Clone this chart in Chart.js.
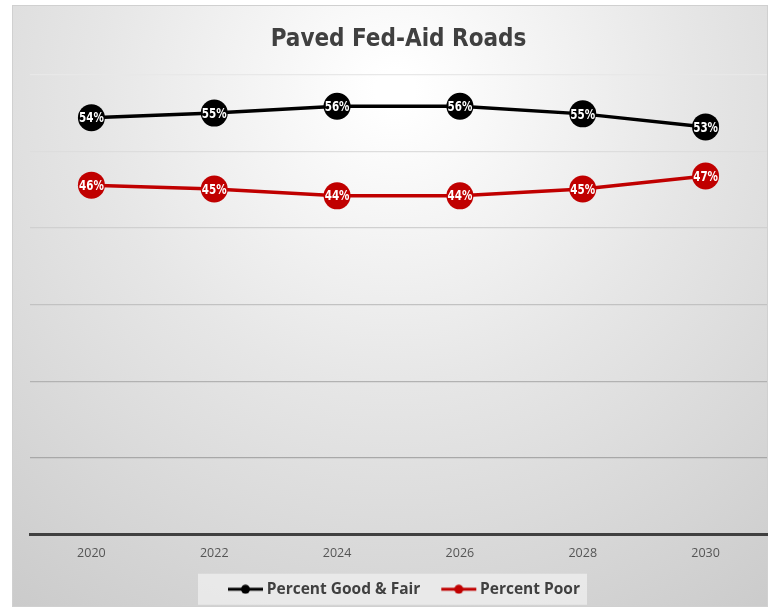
<!DOCTYPE html>
<html>
<head>
<meta charset="utf-8">
<script src="https://cdn.jsdelivr.net/npm/chart.js@4"></script>
<style>
  html, body { margin:0; padding:0; background:#fff; overflow:hidden; }
  #wrap { width:770px; height:611px; }
</style>
</head>
<body>
<div id="wrap"><canvas id="chart" width="770" height="611"></canvas></div>
<script>
// -------- data --------
let years = ['2020','2022','2024','2026','2028','2030'];
let goodFair = [54.4, 55.0, 55.9, 55.9, 54.9, 53.2];
let poor = [45.6, 45.1, 44.2, 44.2, 45.1, 46.8];
let seriesNames = ['Percent Good & Fair', 'Percent Poor'];

let BLACK = '#000000';
let RED = '#c00000';

// legend marker: short line with a dot, shifted right inside a wider canvas
function legendMarker(color){
    let c = document.createElement('canvas');
    c.width = 54; c.height = 10;
    let g = c.getContext('2d');
    g.strokeStyle = color; g.lineWidth = 3;
    g.beginPath(); g.moveTo(17,5); g.lineTo(52,5); g.stroke();
    g.fillStyle = color;
    g.beginPath(); g.arc(34.5,5,4.5,0,Math.PI*2); g.fill();
    return c;
}
let markers = [legendMarker(BLACK), legendMarker(RED)];

// background panel with soft radial gradient
let bgPlugin = {
    id:'bg',
    beforeDraw(chart){
        let ctx = chart.ctx;
        ctx.save();
        ctx.fillStyle = '#fff';
        ctx.fillRect(0,0,chart.width,chart.height);
        let grd = ctx.createRadialGradient(395,90,20,395,90,640);
        grd.addColorStop(0,'#ffffff');
        grd.addColorStop(0.45,'#e6e6e6');
        grd.addColorStop(1,'#cbcbcb');
        ctx.fillStyle = grd;
        ctx.fillRect(12,5,756,602);
        ctx.strokeStyle = '#d0d0d0';
        ctx.lineWidth = 1;
        ctx.strokeRect(12.5,5.5,755,601);
        // legend box
        let lg = chart.legend;
        if(lg && lg.legendHitBoxes && lg.legendHitBoxes.length){
            let hb = lg.legendHitBoxes;
            let x0 = Math.min(...hb.map(h=>h.left)) - 19;
            let x1 = Math.max(...hb.map(h=>h.left+h.width)) + 7;
            let cy = hb[0].top + hb[0].height/2;
            ctx.fillStyle = 'rgba(238,238,238,0.8)';
            ctx.fillRect(x0,cy-15.5,x1-x0,31);
        }
        ctx.restore();
    }
};

// value labels inside the points (condensed)
let labelPlugin = {
    id:'valueLabels',
    afterDatasetsDraw(chart){
        let ctx = chart.ctx;
        ctx.save();
        ctx.font = 'bold 14px "DejaVu Sans", sans-serif';
        ctx.fillStyle = '#fff';
        ctx.textAlign = 'center';
        ctx.textBaseline = 'middle';
        chart.data.datasets.forEach((ds,i)=>{
            let meta = chart.getDatasetMeta(i);
            meta.data.forEach((pt,j)=>{
                ctx.save();
                ctx.translate(pt.x, pt.y+1);
                ctx.scale(0.74,1);
                ctx.fillText(Math.round(ds.data[j])+'%', 0, 0);
                ctx.restore();
            });
        });
        ctx.restore();
    }
};

let gridColors = {10:'#a8a8a8', 20:'#b2b2b2', 30:'#c2c2c2', 40:'#d0d0d0', 50:'#dddddd', 60:'#e8e8e8'};

new Chart(document.getElementById('chart'),{
    type:'line',
    data:{
        labels:years,
        datasets:[
            {label:seriesNames[0], data:goodFair, borderColor:BLACK, backgroundColor:BLACK,
             borderWidth:3.5, pointRadius:13.5, pointHoverRadius:13.5, pointBorderWidth:0, tension:0},
            {label:seriesNames[1], data:poor, borderColor:RED, backgroundColor:RED,
             borderWidth:3.5, pointRadius:13.5, pointHoverRadius:13.5, pointBorderWidth:0, tension:0}
        ]
    },
    options:{
        responsive:false,
        animation:false,
        layout:{autoPadding:false, padding:{left:30, right:3, top:0, bottom:4}},
        scales:{
            x:{
                offset:true,
                grid:{display:false, drawTicks:false},
                border:{display:true, color:'#404040', width:3},
                ticks:{color:'#555555', padding:11, font:{family:'"Open Sans", sans-serif', size:12.5}}
            },
            y:{
                min:0, max:60,
                ticks:{display:false, stepSize:10},
                border:{display:false},
                grid:{drawTicks:false, lineWidth:1.2, color:c=>gridColors[c.tick.value]||'rgba(0,0,0,0)'}
            }
        },
        plugins:{
            title:{
                display:true,
                text:'Paved Fed-Aid Roads',
                color:'#404040',
                font:{family:'"Liberation Sans Narrow", "DejaVu Sans Condensed", sans-serif', size:24, weight:'bold'},
                padding:{top:25, bottom:21}
            },
            legend:{
                position:'bottom',
                labels:{
                    usePointStyle:true,
                    pointStyleWidth:42,
                    color:'#404040',
                    padding:10,
                    font:{family:'"Open Sans", sans-serif', size:15.5, weight:'bold'},
                    generateLabels(chart){
                        let items = Chart.defaults.plugins.legend.labels.generateLabels(chart);
                        items.forEach((it,i)=>{ it.pointStyle = markers[i]; });
                        return items;
                    }
                }
            },
            tooltip:{enabled:false}
        }
    },
    plugins:[bgPlugin, labelPlugin]
});
</script>
</body>
</html>
